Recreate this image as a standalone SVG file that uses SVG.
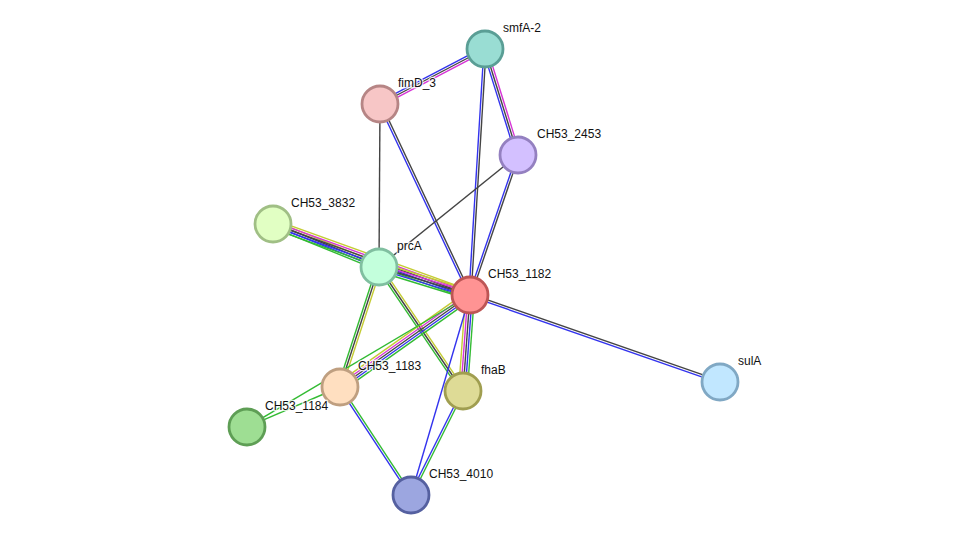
<svg xmlns="http://www.w3.org/2000/svg" width="976" height="541" viewBox="0 0 976 541">
<style>
line{stroke-width:1.4;fill:none}
.g{stroke:#33bb33}.b{stroke:#3333ee}.k{stroke:#444444}.m{stroke:#d633d6}.y{stroke:#c4cc33}
circle{stroke-width:2.8}
text{font-family:"Liberation Sans",Arial,sans-serif;font-size:12px;fill:#111;stroke:#fff;stroke-width:2.5;stroke-opacity:0.8;paint-order:stroke}
</style>
<rect width="976" height="541" fill="#fff"/>
<g id="edges">
<line class="b" x1="483.98" y1="47.05" x2="378.98" y2="102.05"/>
<line class="k" x1="485" y1="49" x2="380" y2="104"/>
<line class="m" x1="486.02" y1="50.95" x2="381.02" y2="105.95"/>
<line class="b" x1="482.9" y1="49.65" x2="515.9" y2="155.65"/>
<line class="k" x1="485" y1="49" x2="518" y2="155"/>
<line class="m" x1="487.1" y1="48.35" x2="520.1" y2="154.35"/>
<line class="b" x1="483.9" y1="48.93" x2="468.9" y2="294.93"/>
<line class="k" x1="486.1" y1="49.07" x2="471.1" y2="295.07"/>
<line class="k" x1="380" y1="104" x2="379" y2="267"/>
<line class="b" x1="379" y1="104.47" x2="469" y2="295.47"/>
<line class="k" x1="381" y1="103.53" x2="471" y2="294.53"/>
<line class="k" x1="518" y1="155" x2="379" y2="267"/>
<line class="b" x1="516.96" y1="154.64" x2="468.96" y2="294.64"/>
<line class="k" x1="519.04" y1="155.36" x2="471.04" y2="295.36"/>
<line class="y" x1="274.24" y1="220.94" x2="380.24" y2="263.94"/>
<line class="k" x1="273.41" y1="222.98" x2="379.41" y2="265.98"/>
<line class="b" x1="272.59" y1="225.02" x2="378.59" y2="268.02"/>
<line class="g" x1="271.76" y1="227.06" x2="377.76" y2="270.06"/>
<line class="y" x1="274.49" y1="219.86" x2="471.49" y2="290.86"/>
<line class="m" x1="273.75" y1="221.93" x2="470.75" y2="292.93"/>
<line class="k" x1="273" y1="224" x2="470" y2="295"/>
<line class="b" x1="272.25" y1="226.07" x2="469.25" y2="297.07"/>
<line class="g" x1="271.51" y1="228.14" x2="468.51" y2="299.14"/>
<line class="y" x1="380.29" y1="262.79" x2="471.29" y2="290.79"/>
<line class="m" x1="379.65" y1="264.9" x2="470.65" y2="292.9"/>
<line class="k" x1="379" y1="267" x2="470" y2="295"/>
<line class="b" x1="378.35" y1="269.1" x2="469.35" y2="297.1"/>
<line class="g" x1="377.71" y1="271.21" x2="468.71" y2="299.21"/>
<line class="g" x1="376.91" y1="266.32" x2="337.91" y2="386.32"/>
<line class="k" x1="379" y1="267" x2="340" y2="387"/>
<line class="y" x1="381.09" y1="267.68" x2="342.09" y2="387.68"/>
<line class="g" x1="377.18" y1="268.23" x2="461.18" y2="392.23"/>
<line class="k" x1="379" y1="267" x2="463" y2="391"/>
<line class="y" x1="380.82" y1="265.77" x2="464.82" y2="389.77"/>
<line class="y" x1="467.46" y1="291.41" x2="337.46" y2="383.41"/>
<line class="m" x1="468.73" y1="293.2" x2="338.73" y2="385.2"/>
<line class="k" x1="470" y1="295" x2="340" y2="387"/>
<line class="b" x1="471.27" y1="296.8" x2="341.27" y2="388.8"/>
<line class="g" x1="472.54" y1="298.59" x2="342.54" y2="390.59"/>
<line class="y" x1="465.61" y1="294.68" x2="458.61" y2="390.68"/>
<line class="m" x1="467.81" y1="294.84" x2="460.81" y2="390.84"/>
<line class="k" x1="470" y1="295" x2="463" y2="391"/>
<line class="b" x1="472.19" y1="295.16" x2="465.19" y2="391.16"/>
<line class="g" x1="474.39" y1="295.32" x2="467.39" y2="391.32"/>
<line class="b" x1="470" y1="295" x2="411" y2="495"/>
<line class="k" x1="470.36" y1="293.96" x2="720.36" y2="380.96"/>
<line class="b" x1="469.64" y1="296.04" x2="719.64" y2="383.04"/>
<line class="g" x1="247" y1="427" x2="340" y2="387"/>
<line class="g" x1="247" y1="427" x2="470" y2="295"/>
<line class="b" x1="339.08" y1="387.61" x2="410.08" y2="495.61"/>
<line class="g" x1="340.92" y1="386.39" x2="411.92" y2="494.39"/>
<line class="b" x1="462.02" y1="390.51" x2="410.02" y2="494.51"/>
<line class="g" x1="463.98" y1="391.49" x2="411.98" y2="495.49"/>
</g>
<g id="smfA-2"><circle cx="485" cy="49" r="18" fill="#99ddd3" stroke="#5a9e95"/><text x="503" y="32">smfA-2</text></g>
<g id="fimD_3"><circle cx="380" cy="104" r="18" fill="#f7c6c6" stroke="#b68585"/><text x="398" y="87">fimD_3</text></g>
<g id="CH53_2453"><circle cx="518" cy="155" r="18" fill="#d3c0ff" stroke="#9480c0"/><text x="537" y="138">CH53_2453</text></g>
<g id="CH53_3832"><circle cx="273" cy="224" r="18" fill="#e1ffc3" stroke="#a0bf85"/><text x="291" y="207">CH53_3832</text></g>
<g id="prcA"><circle cx="379" cy="267" r="18" fill="#c3ffdc" stroke="#80bfa0"/><text x="397" y="250">prcA</text></g>
<g id="CH53_1182"><circle cx="470" cy="295" r="18" fill="#ff9393" stroke="#bd5555"/><text x="488" y="278">CH53_1182</text></g>
<g id="CH53_1183"><circle cx="340" cy="387" r="18" fill="#ffdfc0" stroke="#bf9f80"/><text x="358" y="370">CH53_1183</text></g>
<g id="fhaB"><circle cx="463" cy="391" r="18" fill="#dedb96" stroke="#a09e50"/><text x="481" y="374">fhaB</text></g>
<g id="CH53_1184"><circle cx="247" cy="427" r="18" fill="#9ede93" stroke="#5e9e55"/><text x="265" y="410">CH53_1184</text></g>
<g id="CH53_4010"><circle cx="411" cy="495" r="18" fill="#9ca6e0" stroke="#5560a0"/><text x="429" y="478">CH53_4010</text></g>
<g id="sulA"><circle cx="720" cy="382" r="18" fill="#c1e7ff" stroke="#80a8c4"/><text x="738" y="365">sulA</text></g>
</svg>
